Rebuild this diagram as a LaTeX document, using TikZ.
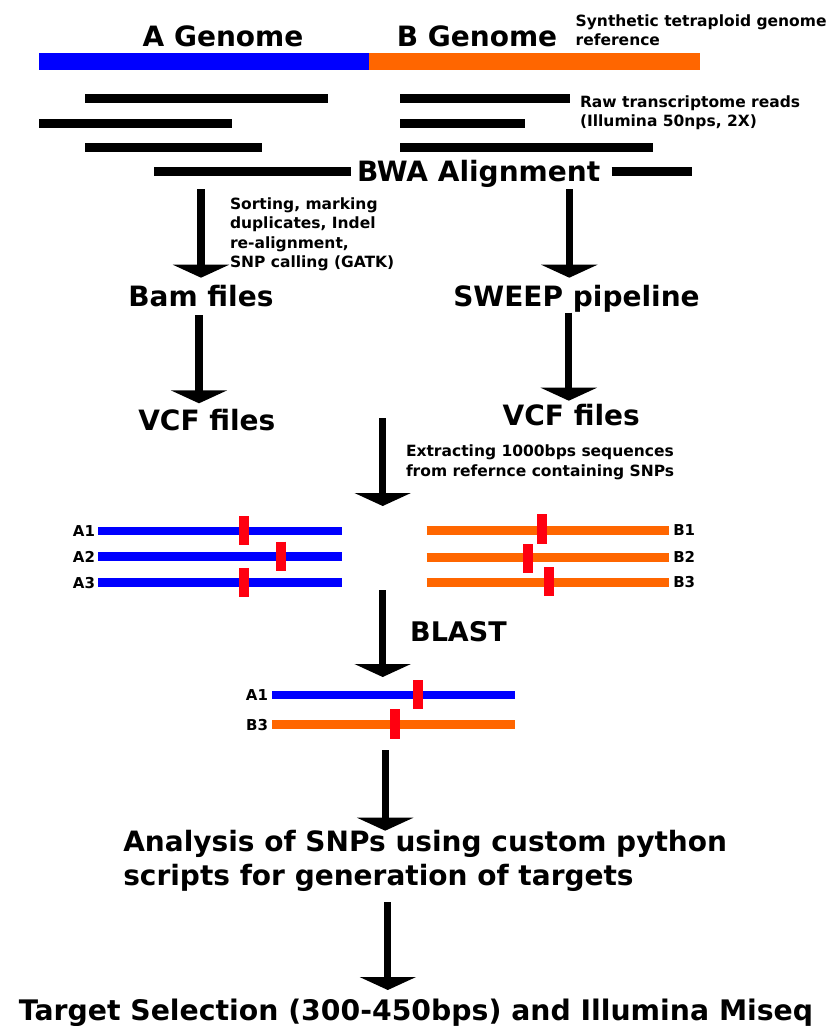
\documentclass[tikz,border=0pt]{standalone}
\usepackage{fontspec}
\setmainfont{DejaVu Sans}
\usetikzlibrary{arrows.meta}
\definecolor{gblue}{RGB}{0,0,255}
\definecolor{gorange}{RGB}{255,102,0}
\definecolor{snpred}{RGB}{255,0,16}
\tikzset{
  bigtxt/.style={font=\fontsize{28}{34}\selectfont\bfseries, inner sep=0pt, outer sep=0pt},
  smalltxt/.style={font=\fontsize{15.5}{19}\selectfont\bfseries, inner sep=0pt, outer sep=0pt},
  labtxt/.style={font=\fontsize{15}{18}\selectfont\bfseries, inner sep=0pt, outer sep=0pt},
  flow/.style={line width=7.3pt, -{Triangle[width=56pt,length=13pt]}},
  readbar/.style={line width=9pt},
  genomebar/.style={line width=16.5pt},
  seqbar/.style={line width=8.7pt},
  snpmark/.style={snpred, line width=9.7pt},
}
\begin{document}
\begin{tikzpicture}[x=1pt,y=-1pt]
\useasboundingbox (0,0) rectangle (827,1026);

% Reference genome
\node[bigtxt, anchor=base] (agen) at (223,46) {A Genome};
\node[bigtxt, anchor=base] (bgen) at (477,46) {B Genome};
\node[smalltxt, anchor=base west] (syn1) at (575.7,26.7) {Synthetic tetraploid genome};
\node[smalltxt, anchor=base west] (syn2) at (575.7,45.7) {reference};
\draw[genomebar, gblue] (39.3,61.7) -- (369.3,61.7);
\draw[genomebar, gorange] (369.3,61.7) -- (700,61.7);

% Reads
\draw[readbar] (85,98.3) -- (328,98.3);
\draw[readbar] (400,98.3) -- (570,98.3);
\draw[readbar] (39.3,123) -- (232.3,123);
\draw[readbar] (400,123) -- (525,123);
\draw[readbar] (85,147) -- (262,147);
\draw[readbar] (400,147) -- (653.3,147);
\draw[readbar] (154,171) -- (350.7,171);
\draw[readbar] (611.7,171) -- (691.7,171);
\node[smalltxt, anchor=base west] (raw1) at (580,107.3) {Raw transcriptome reads};
\node[smalltxt, anchor=base west] (raw2) at (580,126.7) {(Illumina 50nps, 2X)};
\node[bigtxt, anchor=base west] (bwa) at (357,181.7) {BWA Alignment};

% Left branch
\coordinate (l1s) at (201,189.3);
\coordinate (l1e) at (201,277.7);
\draw[flow] (l1s) -- (l1e);
\node[smalltxt, anchor=base west] (s1) at (230,209.3) {Sorting, marking};
\node[smalltxt, anchor=base west] (s2) at (230,228.3) {duplicates, Indel};
\node[smalltxt, anchor=base west] (s3) at (230,248.3) {re-alignment,};
\node[smalltxt, anchor=base west] (s4) at (230,267.3) {SNP calling (GATK)};
\node[bigtxt, anchor=base west] (bam) at (128.3,306.7) {Bam files};
\coordinate (l2s) at (199,315);
\coordinate (l2e) at (199,403.3);
\draw[flow] (l2s) -- (l2e);
\node[bigtxt, anchor=base west] (vcfl) at (138.3,430) {VCF files};

% Right branch
\coordinate (r1s) at (569.3,189.3);
\coordinate (r1e) at (569.3,277.7);
\draw[flow] (r1s) -- (r1e);
\node[bigtxt, anchor=base west] (sweep) at (453.3,306.7) {SWEEP pipeline};
\coordinate (r2s) at (568.8,312.7);
\coordinate (r2e) at (568.8,400.7);
\draw[flow] (r2s) -- (r2e);
\node[bigtxt, anchor=base west] (vcfr) at (502.7,425) {VCF files};

% Extraction
\coordinate (m1s) at (382.7,418.3);
\coordinate (m1e) at (382.7,506);
\draw[flow] (m1s) -- (m1e);
\node[smalltxt, anchor=base west] (ex1) at (406,456.7) {Extracting 1000bps sequences};
\node[smalltxt, anchor=base west] (ex2) at (406,476) {from refernce containing SNPs};

% A sequences
\draw[seqbar, gblue] (98.3,531) -- (341.7,531);
\draw[seqbar, gblue] (98.3,556.7) -- (341.7,556.7);
\draw[seqbar, gblue] (98.3,582.7) -- (341.7,582.7);
\draw[snpmark] (244.2,516) -- (244.2,545.3);
\draw[snpmark] (281.2,541.7) -- (281.2,570.7);
\draw[snpmark] (244.2,568) -- (244.2,597.3);
\node[labtxt, anchor=base east] (a1) at (95,536.7) {A1};
\node[labtxt, anchor=base east] (a2) at (95,562) {A2};
\node[labtxt, anchor=base east] (a3) at (95,588) {A3};

% B sequences
\draw[seqbar, gorange] (426.7,530.2) -- (669.3,530.2);
\draw[seqbar, gorange] (426.7,557.2) -- (669.3,557.2);
\draw[seqbar, gorange] (426.7,582.2) -- (669.3,582.2);
\draw[snpmark] (542,514.3) -- (542,543.7);
\draw[snpmark] (528,544) -- (528,573.3);
\draw[snpmark] (549.2,567) -- (549.2,596.3);
\node[labtxt, anchor=base west] (b1) at (673.3,535.5) {B1};
\node[labtxt, anchor=base west] (b2) at (673.3,562) {B2};
\node[labtxt, anchor=base west] (b3) at (673.3,587.5) {B3};

% BLAST
\coordinate (m2s) at (382.7,590);
\coordinate (m2e) at (382.7,677);
\draw[flow] (m2s) -- (m2e);
\node[font=\fontsize{27}{32}\selectfont\bfseries, inner sep=0pt, anchor=base west] (blast) at (410,641.7) {BLAST};
\draw[seqbar, gblue] (272,695) -- (515,695);
\draw[seqbar, gorange] (272,724.7) -- (515,724.7);
\draw[snpmark] (417.7,680) -- (417.7,709);
\draw[snpmark] (395,709) -- (395,738.7);
\node[labtxt, anchor=base east] (ba1) at (268,700.5) {A1};
\node[labtxt, anchor=base east] (bb3) at (268,730) {B3};

% Analysis
\coordinate (m3s) at (385.2,750);
\coordinate (m3e) at (385.2,830.7);
\draw[flow] (m3s) -- (m3e);
\node[bigtxt, anchor=base west] (an1) at (123.3,851) {Analysis of SNPs using custom python};
\node[bigtxt, anchor=base west] (an2) at (123.3,885.7) {scripts for generation of targets};
\coordinate (m4s) at (387.8,902.3);
\coordinate (m4e) at (387.8,990);
\draw[flow] (m4s) -- (m4e);
\node[font=\fontsize{28.3}{34}\selectfont\bfseries, inner sep=0pt, anchor=base] (target) at (416,1020.7) {Target Selection (300-450bps) and Illumina Miseq};
\end{tikzpicture}
\end{document}
